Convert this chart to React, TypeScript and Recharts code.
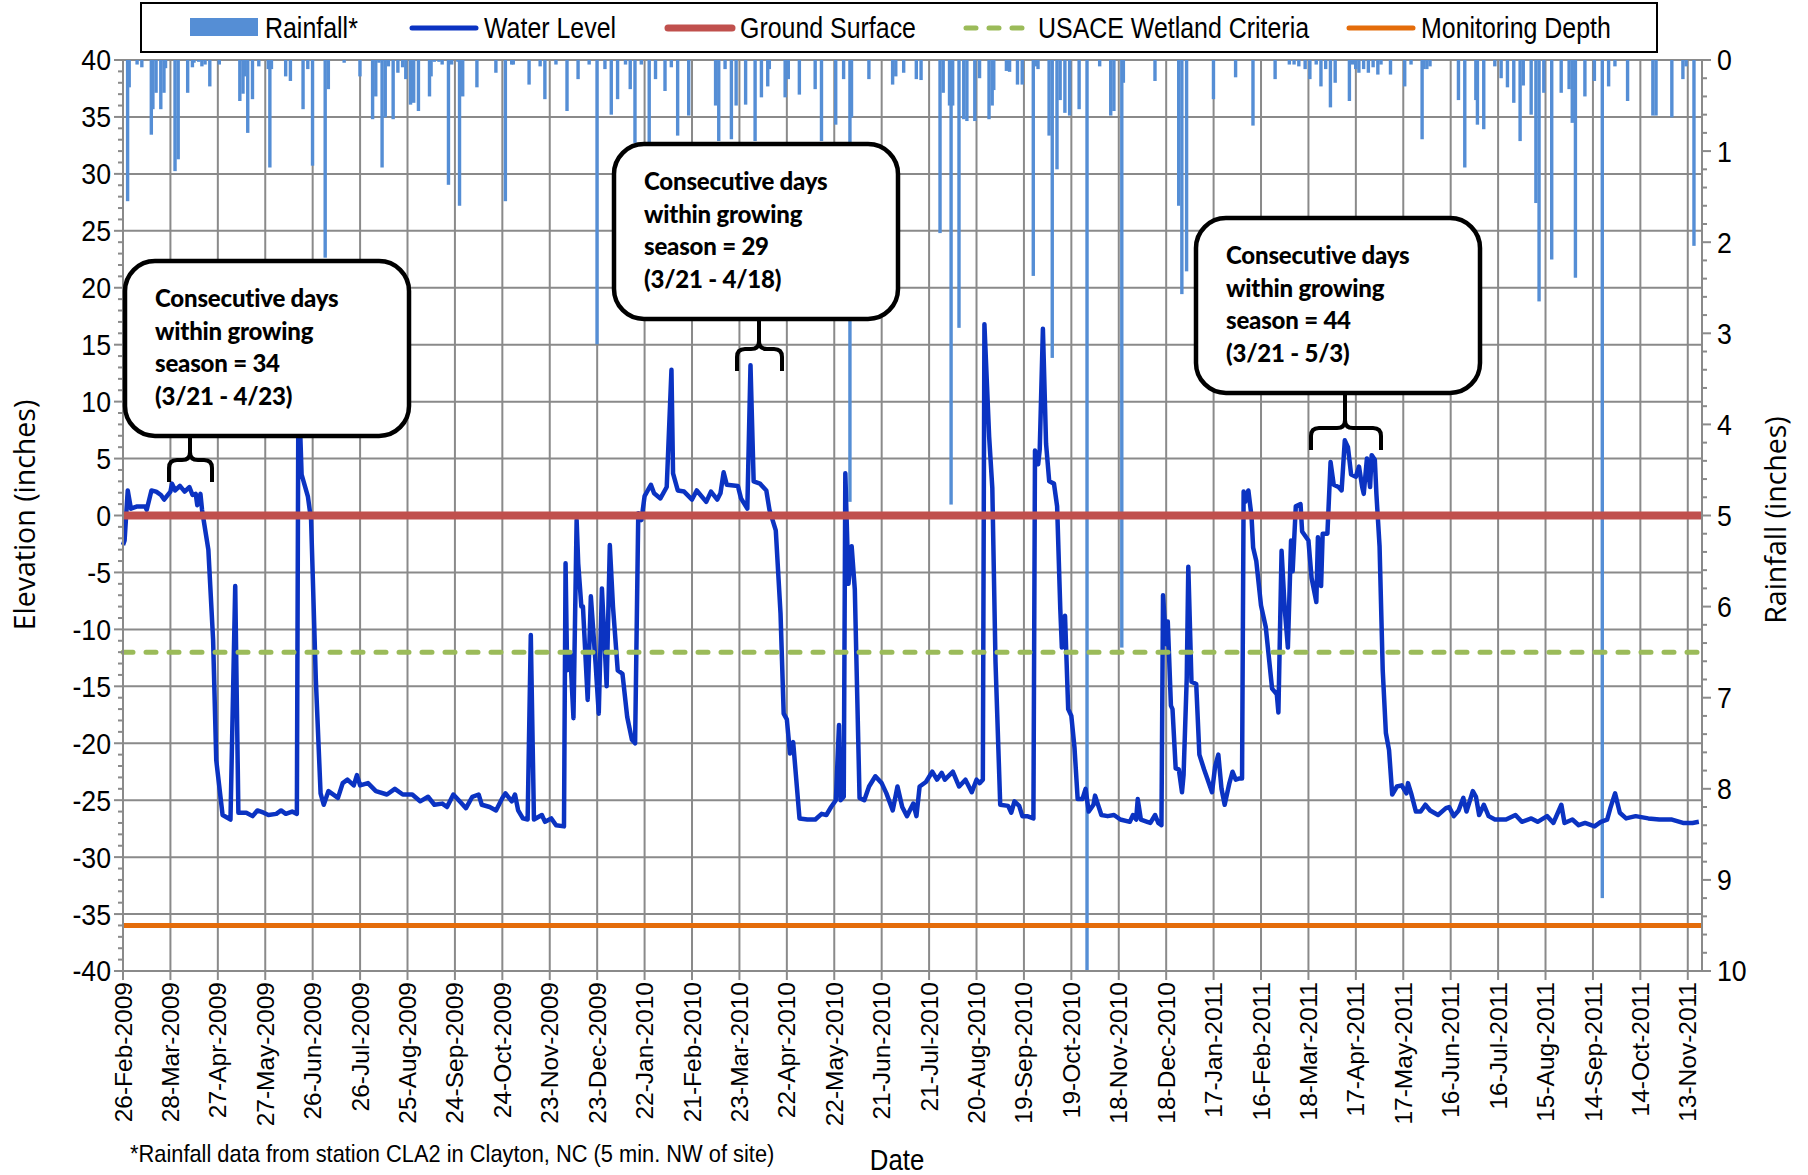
import React from "react";
import {
  ComposedChart,
  Bar,
  Line,
  XAxis,
  YAxis,
  CartesianGrid,
  ReferenceLine,
} from "recharts";

// ---- data (day 0 = 26-Feb-2009) ----

const dateTickDays = [
  0, 30, 60, 90, 120, 150, 180, 210, 240, 270, 300, 330, 360, 390, 420, 450, 480,
  510, 540, 570, 600, 630, 660, 690, 720, 750, 780, 810, 840, 870, 900, 930, 960, 990,
];

const dateTickLabels = [
  "26-Feb-2009", "28-Mar-2009", "27-Apr-2009", "27-May-2009", "26-Jun-2009",
  "26-Jul-2009", "25-Aug-2009", "24-Sep-2009", "24-Oct-2009", "23-Nov-2009",
  "23-Dec-2009", "22-Jan-2010", "21-Feb-2010", "23-Mar-2010", "22-Apr-2010",
  "22-May-2010", "21-Jun-2010", "21-Jul-2010", "20-Aug-2010", "19-Sep-2010",
  "19-Oct-2010", "18-Nov-2010", "18-Dec-2010", "17-Jan-2011", "16-Feb-2011",
  "18-Mar-2011", "17-Apr-2011", "17-May-2011", "16-Jun-2011", "16-Jul-2011",
  "15-Aug-2011", "14-Sep-2011", "14-Oct-2011", "13-Nov-2011",
];

const elevationTicks = [-40, -35, -30, -25, -20, -15, -10, -5, 0, 5, 10, 15, 20, 25, 30, 35, 40];
const rainTicks = [0, 1, 2, 3, 4, 5, 6, 7, 8, 9, 10];

const GROUND_SURFACE = 0;
const USACE_CRITERIA = -12;
const MONITORING_DEPTH = -36;

// [day, inches]
const rainfall: [number, number][] = [
  [3, 1.55], [4, 0.3], [9, 0.05], [12, 0.08], [18, 0.82], [19, 0.54], [21, 0.36], [24, 0.54],
  [26, 0.36], [27, 0.09], [33, 1.22], [35, 1.09], [41, 0.36], [44, 0.08], [45, 0.03], [48, 0.02],
  [50, 0.07], [52, 0.05], [55, 0.29], [61, 0.05], [74, 0.45], [76, 0.37], [77, 0.18], [79, 0.8],
  [82, 0.43], [86, 0.07], [92, 0.1], [93, 1.18], [94, 0.1], [103, 0.18], [106, 0.23], [114, 0.54],
  [117, 0.1], [120, 1.16], [128, 2.17], [130, 0.32], [140, 0.03], [150, 0.18], [158, 0.65],
  [160, 0.4], [162, 0.03], [164, 1.18], [166, 0.63], [168, 0.07], [171, 0.65], [174, 0.14],
  [177, 0.08], [179, 0.21], [182, 0.49], [184, 0.47], [187, 0.56], [194, 0.4], [195, 0.18],
  [197, 0.02], [200, 0.02], [202, 0.05], [206, 1.37], [208, 0.05], [212, 0.02], [213, 1.6],
  [215, 0.4], [224, 0.3], [236, 0.14], [242, 1.55], [246, 0.05], [247, 0.05], [257, 0.27],
  [264, 0.07], [267, 0.43], [274, 0.05], [281, 0.56], [288, 0.21], [295, 0.05], [300, 3.12],
  [305, 0.1], [309, 0.6], [313, 0.43], [318, 0.05], [321, 0.32], [324, 0.91], [328, 0.05],
  [333, 0.91], [337, 0.21], [343, 0.34], [347, 0.08], [351, 0.83], [358, 0.61],
  [375, 0.5], [377, 0.89], [381, 0.1], [385, 0.87], [388, 0.5], [394, 0.49], [400, 0.89],
  [404, 0.41], [408, 0.29], [409, 0.1], [419, 0.41], [421, 0.21], [428, 0.38], [438, 0.32],
  [442, 0.89], [451, 0.71], [456, 0.21], [460, 4.85], [461, 0.63], [472, 0.21], [487, 0.27],
  [489, 0.18], [494, 0.14], [502, 0.21], [505, 0.22], [517, 1.9], [519, 0.36], [523, 0.5],
  [524, 4.88], [525, 0.5], [529, 2.94], [532, 0.65], [534, 0.67], [539, 0.67], [542, 0.2],
  [548, 0.65], [550, 0.5], [551, 0.33], [559, 0.12], [561, 0.13], [566, 0.27], [569, 0.27],
  [576, 2.37], [578, 0.07], [579, 0.1], [586, 0.83], [588, 3.27], [591, 1.2], [593, 0.44],
  [596, 0.58], [599, 0.61], [605, 0.54], [610, 10], [618, 0.07], [625, 0.61], [627, 0.56],
  [632, 6.45], [633, 0.25], [653, 0.23],
  [668, 1.6], [670, 2.57], [673, 2.32], [690, 0.43], [704, 0.19], [715, 0.72], [729, 0.21],
  [738, 0.05], [741, 0.05], [744, 0.07], [748, 0.1], [751, 0.21], [755, 0.05], [758, 0.29],
  [761, 0.1], [764, 0.52], [767, 0.25], [776, 0.45], [778, 0.05], [780, 0.1], [782, 0.14],
  [785, 0.1], [788, 0.14], [791, 0.08], [794, 0.16], [796, 0.05], [802, 0.16], [811, 0.29],
  [815, 0.05], [822, 0.87], [823, 0.1], [825, 0.1], [827, 0.07], [845, 0.44], [849, 1.18],
  [856, 0.44], [857, 0.71], [861, 0.76], [868, 0.07], [872, 0.2], [876, 0.3], [880, 0.47],
  [884, 0.89], [886, 0.28], [891, 0.6], [894, 1.57], [896, 2.65], [899, 0.36], [904, 2.19],
  [910, 0.36], [915, 0.32], [917, 0.69], [919, 2.39], [925, 0.4], [931, 0.23], [936, 9.2],
  [940, 0.29], [944, 0.07], [952, 0.45], [968, 0.61], [970, 0.61], [980, 0.63], [987, 0.21],
  [989, 0.07], [994, 2.04],
];

// [day, inches relative to ground]
const waterLevel: [number, number][] = [
  [0, -2.6], [1, -2.2], [3, 2.2], [5, 0.6], [9, 0.8], [14, 0.8], [15, 0.5], [18, 2.2], [21, 2.1],
  [24, 1.8], [26, 1.4], [30, 2.1], [31, 2.8], [33, 2.2], [36, 2.6], [39, 2.1], [42, 2.5], [44, 1.8],
  [46, 1.9], [47, 0.9], [49, 1.9], [50, 0.5], [54, -3.0], [57, -10.9], [59, -21.5], [63, -26.3],
  [68, -26.7], [71, -6.2], [73, -26.1], [78, -26.1], [82, -26.4], [85, -25.9], [89, -26.1],
  [92, -26.3], [97, -26.2], [100, -25.9], [103, -26.2], [107, -26.0], [110, -26.2], [111, 12],
  [113, 3.6], [117, 1.65], [119, -0.4], [122, -14.4], [125, -24.4], [127, -25.4], [130, -24.2],
  [136, -24.8], [139, -23.5], [142, -23.2], [146, -23.7], [148, -22.8], [150, -23.7], [155, -23.5],
  [160, -24.2], [167, -24.5], [172, -24.0], [177, -24.5], [183, -24.5], [188, -25.1], [193, -24.7],
  [197, -25.4], [202, -25.3], [205, -25.6], [209, -24.5], [213, -25.1], [217, -25.7], [221, -24.7],
  [225, -24.5], [227, -25.4], [232, -25.6], [236, -25.9], [240, -24.8], [242, -24.4], [246, -25.1],
  [248, -24.5], [250, -25.9], [253, -26.6], [256, -26.7], [258, -10.5], [260, -26.7], [265, -26.3],
  [267, -26.9], [271, -26.6], [274, -27.2], [279, -27.3], [280, -4.2], [281, -13.6], [283, -12.2],
  [285, -17.8], [287, -0.4], [288, -4.2], [290, -8.0], [291, -8.0], [294, -16.2], [296, -7.1],
  [299, -13.0], [301, -17.4], [303, -6.4], [305, -12.1], [306, -15.0], [308, -2.6], [310, -8.0],
  [313, -13.6], [316, -13.9], [319, -17.7], [322, -19.7], [324, -20.0], [326, 0.2], [328, -0.4],
  [330, 1.7], [334, 2.7], [336, 1.95], [340, 1.5], [344, 2.5], [347, 12.8], [348, 3.7], [351, 2.2],
  [355, 2.1], [360, 1.4], [363, 2.2], [369, 1.2], [372, 2.1], [376, 1.4], [378, 1.95], [380, 3.8],
  [382, 2.7], [389, 2.6], [391, 1.5], [395, 0.6], [397, 13.2], [399, 3.0], [403, 2.8], [407, 2.2],
  [409, 0.5], [413, -1.3], [416, -8.6], [418, -17.4], [420, -17.9], [422, -20.9], [424, -19.9],
  [428, -26.6], [433, -26.7], [438, -26.7], [442, -26.2], [445, -26.3], [448, -25.6], [451, -25.0],
  [453, -18.4], [454, -25.0], [456, -24.7], [457, 3.7], [459, -6.0], [461, -2.7], [463, -6.5],
  [466, -24.8], [469, -25.0], [472, -23.8], [476, -22.9], [480, -23.5], [483, -24.4], [487, -25.9],
  [490, -23.8], [493, -25.6], [496, -26.4], [500, -25.3], [502, -26.4], [504, -23.8], [508, -23.4],
  [512, -22.5], [515, -23.2], [518, -22.6], [520, -23.2], [525, -22.5], [529, -23.8], [533, -23.2],
  [537, -24.3], [540, -23.2], [542, -23.5], [544, -23.2], [545, 16.8], [548, 6.9], [550, 2.4],
  [552, -12.8], [555, -25.4], [560, -25.5], [562, -26.1], [564, -25.1], [567, -25.5], [569, -26.4],
  [572, -26.4], [576, -26.6], [577, 5.7], [579, 4.5], [580, 5.8], [582, 16.4], [584, 6.3],
  [586, 3.0], [589, 2.8], [591, 0.8], [593, -8.2], [594, -11.6], [596, -8.8], [598, -17.0],
  [600, -17.6], [602, -20.4], [604, -24.9], [607, -24.9], [609, -24.0], [611, -26.0], [614, -25.4],
  [615, -24.6], [619, -26.3], [623, -26.4], [627, -26.3], [631, -26.7], [637, -26.9], [639, -26.3],
  [641, -26.7], [642, -24.9], [644, -26.7], [648, -26.9], [650, -27.0], [653, -26.3], [655, -27.0],
  [657, -27.2], [658, -7.0], [660, -11.3], [661, -9.3], [663, -16.7], [664, -17.0], [666, -22.2],
  [668, -22.3], [670, -24.3], [671, -22.8], [673, -14.3], [674, -4.5], [676, -14.6], [679, -14.8],
  [681, -21.0], [684, -22.3], [686, -23.1], [689, -24.3], [691, -22.0], [693, -21.0], [695, -24.0],
  [697, -25.4], [700, -23.5], [702, -22.5], [704, -23.2], [706, -23.1], [708, -23.1], [709, 2.1],
  [710, 1.2], [712, 2.2], [714, -0.1], [715, -2.8], [717, -4.0], [720, -7.9], [723, -9.8],
  [725, -12.5], [727, -15.2], [730, -15.7], [731, -17.3], [733, -3.1], [735, -8.2], [737, -11.6],
  [739, -2.2], [740, -4.9], [742, 0.8], [745, 1.0], [746, -1.4], [750, -2.2], [752, -5.5],
  [755, -7.6], [756, -1.9], [758, -6.2], [759, -1.6], [762, -1.6], [764, 4.7], [766, 2.7],
  [769, 2.5], [771, 2.2], [773, 6.6], [775, 6.0], [777, 3.6], [780, 3.4], [782, 4.3], [784, 2.5],
  [785, 1.9], [787, 5.0], [789, 2.5], [790, 5.3], [792, 4.9], [793, 1.9], [795, -2.7], [797, -13.6],
  [799, -19.1], [801, -20.6], [803, -24.5], [806, -23.8], [809, -23.7], [812, -24.4], [813, -23.5],
  [815, -24.4], [818, -26.0], [821, -26.0], [824, -25.4], [827, -25.9], [832, -26.3], [837, -25.7],
  [839, -25.6], [842, -26.4], [845, -25.9], [848, -24.8], [850, -26.0], [854, -24.2], [856, -24.7],
  [858, -26.3], [861, -25.4], [864, -26.4], [868, -26.7], [875, -26.7], [881, -26.3], [885, -26.9],
  [891, -26.6], [895, -26.9], [901, -26.4], [905, -27.0], [910, -25.4], [912, -27.0], [917, -26.7],
  [921, -27.2], [925, -27.0], [931, -27.3], [935, -26.9], [939, -26.7], [941, -25.7], [944, -24.4],
  [947, -26.1], [951, -26.6], [957, -26.4], [965, -26.6], [972, -26.7], [980, -26.7], [987, -27.0],
  [993, -27.0], [997, -26.9],
];

const legendItems = [
  { label: "Rainfall*", kind: "bar", color: "#558ED5" },
  { label: "Water Level", kind: "line", color: "#0B33C2" },
  { label: "Ground Surface", kind: "line", color: "#C0504D" },
  { label: "USACE Wetland Criteria", kind: "dash", color: "#9BBB59" },
  { label: "Monitoring Depth", kind: "line", color: "#E46C0A" },
];

const callouts = [
  { box: [125, 261], stem: 190, brace: [169, 212], braceY: 460, lines: ["Consecutive days", "within growing", "season = 34", "(3/21 - 4/23)"] },
  { box: [614, 144], stem: 759, brace: [737, 782], braceY: 349, lines: ["Consecutive days", "within growing", "season = 29", "(3/21 - 4/18)"] },
  { box: [1196, 218], stem: 1345, brace: [1311, 1381], braceY: 428, lines: ["Consecutive days", "within growing", "season = 44", "(3/21 - 5/3)"] },
];

// ---- build the chart table ----

type Row = { day: number; rain?: number; level?: number };

const table: Row[] = (() => {
  const m = new Map<number, Row>();
  rainfall.forEach(([d, r]) => m.set(d, { ...(m.get(d) || { day: d }), rain: r }));
  waterLevel.forEach(([d, v]) => m.set(d, { ...(m.get(d) || { day: d }), level: v }));
  return Array.from(m.values()).sort((a, b) => a.day - b.day);
})();

const elevMinor = Array.from({ length: 81 }, (_, i) => i - 40);
const rainMinor = Array.from({ length: 51 }, (_, i) => i / 5);

const GRID = "#8A8A8A";
const SANS = "'Liberation Sans', Arial, sans-serif";
const TITLE = "'Open Sans', 'Noto Sans', sans-serif";

// condensed-looking text: regular sans squeezed horizontally
function Narrow({ x, y, size, sx = 0.86, anchor = "start", children }: any) {
  return (
    <text
      transform={`translate(${x} ${y}) scale(${sx} 1)`}
      dy="0.36em"
      textAnchor={anchor}
      fontFamily={SANS}
      fontSize={size}
      fill="#000"
    >
      {children}
    </text>
  );
}

const ElevTick = (props: any) => {
  const { x, y, payload } = props;
  const v = payload.value;
  const major = elevationTicks.includes(v);
  return (
    <g>
      <line x1={x - (major ? 9 : 5)} x2={x} y1={y} y2={y} stroke={GRID} strokeWidth={2} />
      {major && <Narrow x={x - 12} y={y} size={29} sx={0.92} anchor="end">{v}</Narrow>}
    </g>
  );
};

const RainTick = (props: any) => {
  const { x, y, payload } = props;
  const v = payload.value;
  const major = rainTicks.includes(v);
  return (
    <g>
      <line x1={x} x2={x + (major ? 9 : 5)} y1={y} y2={y} stroke={GRID} strokeWidth={2} />
      {major && <Narrow x={x + 15} y={y} size={29} sx={0.92}>{v}</Narrow>}
    </g>
  );
};

const DateTick = (props: any) => {
  const { x, y, payload } = props;
  const label = dateTickLabels[dateTickDays.indexOf(payload.value)];
  return (
    <g>
      <line x1={x} x2={x} y1={y} y2={y + 9} stroke={GRID} strokeWidth={2} />
      <text
        x={x}
        y={y + 11}
        dy="0.35em"
        textAnchor="end"
        transform={`rotate(-90 ${x} ${y + 11})`}
        fontFamily={SANS}
        fontSize={24.5}
        fill="#000"
      >
        {label}
      </text>
    </g>
  );
};

const RainBar = (props: any) => {
  const { x, y, width, height } = props;
  if (!height || isNaN(height) || isNaN(y)) return <g />;
  const top = Math.min(y, y + height);
  const cx = x + width / 2;
  return <rect x={cx - 1.7} y={top} width={3.4} height={Math.abs(height)} fill="#558ED5" />;
};

function Brace({ c }: { c: (typeof callouts)[number] }) {
  const [l, r] = c.brace;
  const by = c.braceY;
  const cx = c.stem;
  const bottom = by + 22;
  const boxBottom = c.box[1] + 175;
  const d = [
    `M ${l} ${bottom} L ${l} ${by + 8} Q ${l} ${by} ${l + 8} ${by} L ${cx - 8} ${by} Q ${cx} ${by} ${cx} ${by - 8}`,
    `Q ${cx} ${by} ${cx + 8} ${by} L ${r - 8} ${by} Q ${r} ${by} ${r} ${by + 8} L ${r} ${bottom}`,
    `M ${cx} ${by - 8} L ${cx} ${boxBottom}`,
  ].join(" ");
  return <path d={d} fill="none" stroke="#000" strokeWidth={4} />;
}

function Overlay() {
  const legendX = [190, 409, 665, 963, 1346];
  return (
    <svg
      width={1808}
      height={1175}
      style={{ position: "absolute", left: 0, top: 0, pointerEvents: "none" }}
    >
      {/* legend */}
      <rect x={141} y={3} width={1516} height={49} fill="#fff" stroke="#000" strokeWidth={2} />
      {legendItems.map((it, i) => {
        const x = legendX[i];
        return (
          <g key={it.label}>
            {it.kind === "bar" && <rect x={x} y={18} width={68} height={18} fill={it.color} />}
            {it.kind === "line" && (
              <line x1={x + 3} x2={x + 67} y1={28} y2={28} stroke={it.color} strokeWidth={i === 2 ? 7 : 5} strokeLinecap="round" />
            )}
            {it.kind === "dash" && (
              <line x1={x + 3} x2={x + 67} y1={28} y2={28} stroke={it.color} strokeWidth={5} strokeLinecap="round" strokeDasharray="10 13" />
            )}
            <Narrow x={x + 75} y={28} size={29} sx={0.86}>{it.label}</Narrow>
          </g>
        );
      })}

      {/* callouts */}
      {callouts.map((c, i) => (
        <g key={i}>
          <Brace c={c} />
          <rect x={c.box[0]} y={c.box[1]} width={284} height={175} rx={30} ry={30} fill="#fff" stroke="#000" strokeWidth={4.5} />
          {c.lines.map((t, j) => (
            <text
              key={j}
              x={c.box[0] + 30}
              y={c.box[1] + 46 + j * 32.5}
              fontFamily="Lato, 'Open Sans', sans-serif"
              fontWeight={900}
              fontSize={24}
              letterSpacing={-0.2}
              fill="#000"
            >
              {t}
            </text>
          ))}
        </g>
      ))}

      {/* axis titles & note */}
      <text x={25} y={515} transform="rotate(-90 25 515)" textAnchor="middle" dy="0.35em" fontFamily={TITLE} fontSize={28.5} fill="#000">
        Elevation (inches)
      </text>
      <text x={1776} y={520} transform="rotate(-90 1776 520)" textAnchor="middle" dy="0.35em" fontFamily={TITLE} fontSize={28.5} fill="#000">
        Rainfall (inches)
      </text>
      <Narrow x={897} y={1159} size={30} sx={0.86} anchor="middle">Date</Narrow>
      <Narrow x={130} y={1153} size={24} sx={0.91}>
        *Rainfall data from station CLA2 in Clayton, NC (5 min. NW of site)
      </Narrow>
    </svg>
  );
}

export default function App() {
  return (
    <div style={{ position: "absolute", left: 0, top: 0, width: 1808, height: 1175, background: "#fff" }}>
      <ComposedChart
        width={1808}
        height={1175}
        data={table}
        margin={{ top: 60, right: 0, bottom: 0, left: 0 }}
      >
        <CartesianGrid horizontalValues={elevationTicks} stroke={GRID} strokeWidth={2} />
        <XAxis
          dataKey="day"
          type="number"
          domain={[0, 999]}
          ticks={dateTickDays}
          interval={0}
          height={204}
          tickSize={0}
          tickMargin={0}
          tickLine={false}
          tick={DateTick}
          axisLine={{ stroke: GRID, strokeWidth: 2 }}
        />
        <YAxis
          orientation="left"
          width={123}
          domain={[-40, 40]}
          allowDataOverflow
          ticks={elevMinor}
          interval={0}
          tickSize={0}
          tickMargin={0}
          tickLine={false}
          tick={ElevTick}
          axisLine={{ stroke: GRID, strokeWidth: 2 }}
        />
        <YAxis
          yAxisId="rain"
          orientation="right"
          width={106}
          domain={[0, 10]}
          reversed
          allowDataOverflow
          ticks={rainMinor}
          interval={0}
          tickSize={0}
          tickMargin={0}
          tickLine={false}
          tick={RainTick}
          axisLine={{ stroke: GRID, strokeWidth: 2 }}
        />
        <Bar yAxisId="rain" dataKey="rain" shape={RainBar} isAnimationActive={false} />
        <Line
          dataKey="level"
          type="linear"
          stroke="#0B33C2"
          strokeWidth={4.5}
          strokeLinejoin="round"
          dot={false}
          activeDot={false}
          connectNulls
          isAnimationActive={false}
        />
        <ReferenceLine y={USACE_CRITERIA} stroke="#9BBB59" strokeWidth={5} strokeDasharray="10 13" strokeLinecap="round" />
        <ReferenceLine y={MONITORING_DEPTH} stroke="#E46C0A" strokeWidth={5} />
        <ReferenceLine y={GROUND_SURFACE} stroke="#C0504D" strokeWidth={8} />
      </ComposedChart>
      <Overlay />
    </div>
  );
}
